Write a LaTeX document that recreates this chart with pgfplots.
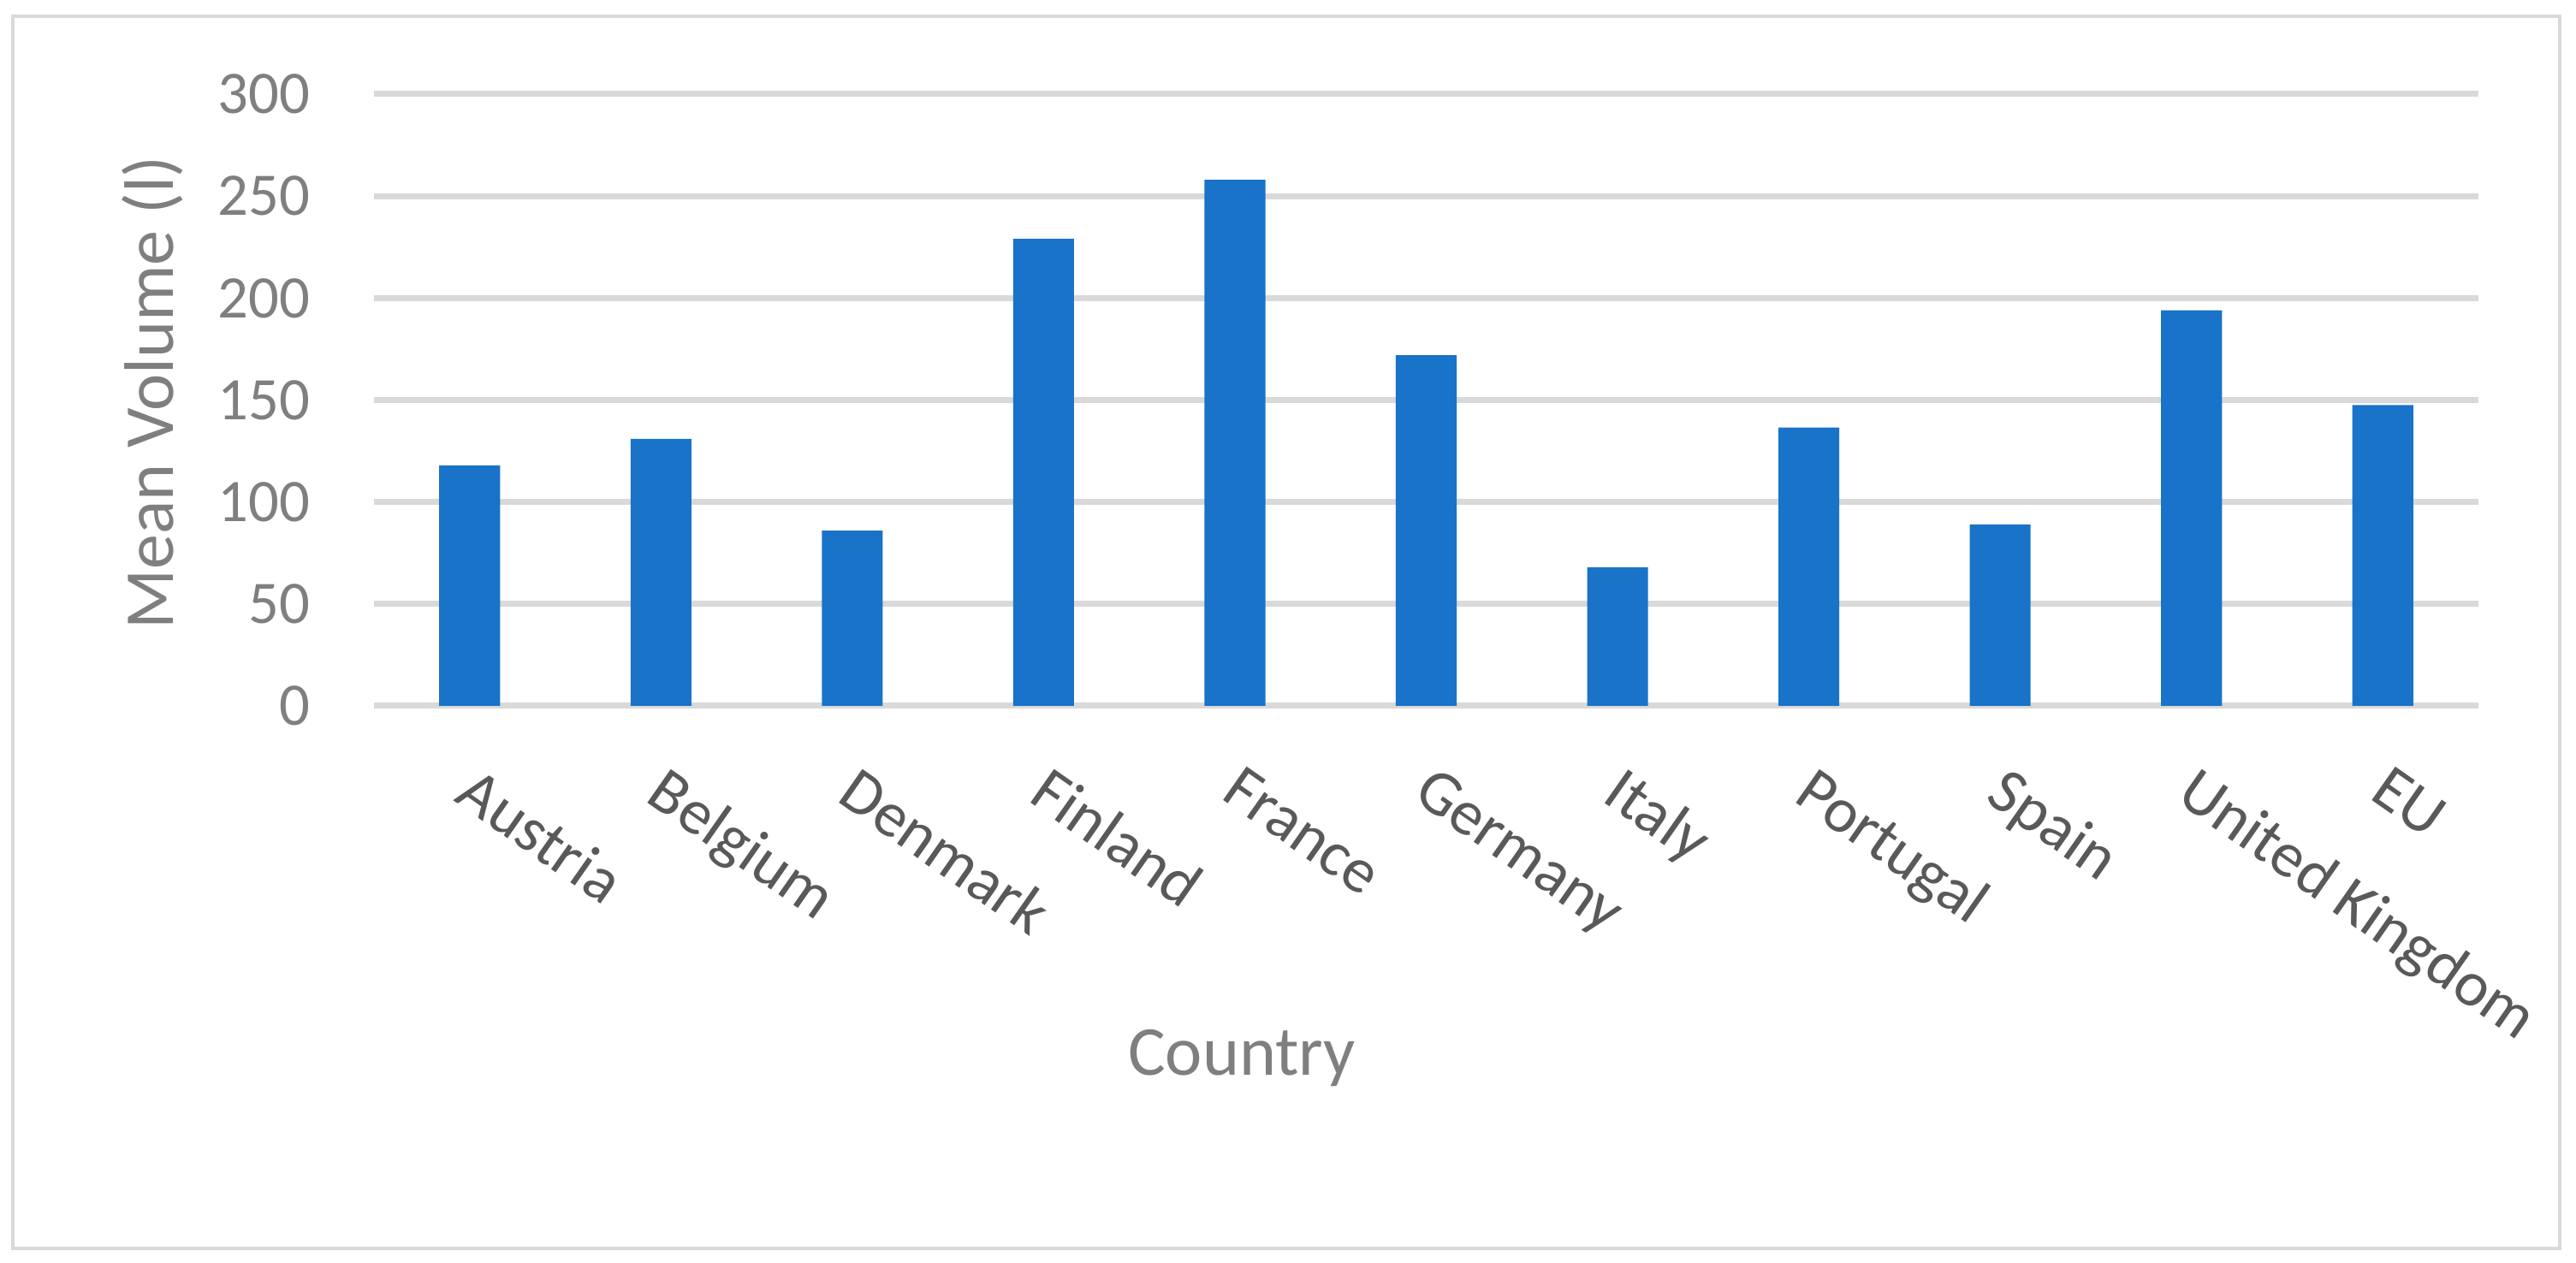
\documentclass[border=0pt]{standalone}
\usepackage{fontspec}
\setmainfont{Carlito}
\usepackage{pgfplots}
\pgfplotsset{compat=1.18}
\definecolor{barblue}{HTML}{1873C9}
\definecolor{gridgray}{HTML}{D9D9D9}
\definecolor{lighttext}{HTML}{7F7F7F}
\definecolor{cattext}{HTML}{595959}

\begin{document}
\begin{tikzpicture}
% page and chart frame
\path[use as bounding box] (-65.55pt,-97.65pt) rectangle (385.95pt,123.75pt);
\draw[gridgray, line width=0.6pt] (-63.3pt,-95.1pt) rectangle (383.1pt,120.9pt);
\begin{axis}[
  at={(0,0)}, anchor=south west,
  scale only axis, width=368.85pt, height=107.25pt,
  xmin=-0.5, xmax=10.5, ymin=0, ymax=300,
  xtick={0,...,10}, ytick={0,50,...,300},
  xticklabels={Austria,Belgium,Denmark,Finland,France,Germany,Italy,Portugal,Spain,United Kingdom,EU},
  axis line style={draw=none}, major tick length=0pt,
  ymajorgrids, major grid style={gridgray, line width=1.05pt},
  /pgf/number format/assume math mode=true,
  yticklabel style={font=\fontsize{10.6}{12}\selectfont, text=lighttext, anchor=east, inner sep=0pt},
  yticklabel shift=11pt,
  xticklabel style={xshift=1.5pt, font=\fontsize{11.2}{13}\selectfont, text=cattext, rotate=-35, anchor=north west, inner sep=0pt},
  xticklabel shift=10pt,
  xlabel={Country},
  xlabel style={at={(axis description cs:0.4124,-0.6042)}, anchor=base, font=\fontsize{12.3}{14}\selectfont, text=lighttext},
  ylabel={Mean Volume (l)},
  ylabel style={at={(axis description cs:-0.0952,0.512)}, anchor=base, font=\fontsize{12.3}{14}\selectfont, text=lighttext},
]
\addplot[ybar, bar width=0.318, fill=barblue, draw=none] coordinates
  {(0,118) (1,131) (2,86) (3,229) (4,258) (5,172) (6,68) (7,136.5) (8,89) (9,194) (10,147.5)};
\end{axis}
\end{tikzpicture}
\end{document}
